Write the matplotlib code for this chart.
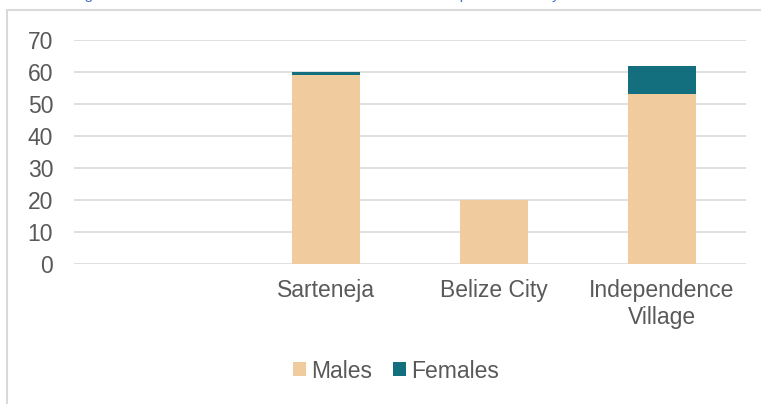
import matplotlib
matplotlib.use("Agg")
import matplotlib.pyplot as plt
from matplotlib.patches import Rectangle

plt.rcParams['font.family'] = ['Liberation Sans', 'DejaVu Sans']

# Data: fishers interviewed per community, split by sex
communities = ["", "Sarteneja", "Belize City", "Independence\nVillage"]
males = [0, 59, 20, 53]
females = [0, 1, 0, 9]
y_ticks = [0, 10, 20, 30, 40, 50, 60, 70]

male_color = "#EFCB9E"
female_color = "#136E7D"
text_color = "#595959"
grid_color = "#D9D9D9"
font_size = 16.5

fig = plt.figure(figsize=(7.61, 4.04), dpi=100)

# Caption sitting just above the chart frame
fig.text(72 / 761, 1 + 1.0 / 404, "Figure 6: Number of male and female fishers interviewed per community",
         color="#4472C4", fontsize=11, ha="left", va="baseline")

# Chart frame
fig.patches.append(Rectangle((7 / 761, -0.05), 1.2, 1 - 10 / 404 + 0.05,
                             transform=fig.transFigure, fill=False,
                             edgecolor=grid_color, linewidth=1.5))

ax = fig.add_axes([74 / 761, 1 - 264 / 404, (746 - 74) / 761, (264 - 40) / 404])

x = list(range(len(communities)))
ax.bar(x, males, width=0.4, color=male_color, label="Males", zorder=3)
ax.bar(x, females, width=0.4, bottom=males, color=female_color, label="Females", zorder=3)

ax.set_xlim(-0.5, len(communities) - 0.5)
ax.set_ylim(0, 70)
ax.set_yticks(y_ticks)
ax.set_xticks(x)
ax.set_xticklabels(communities, linespacing=1.2)

for s in ax.spines.values():
    s.set_visible(False)
ax.yaxis.grid(True, color=grid_color, linewidth=1.2, zorder=0)
ax.set_axisbelow(True)

ax.tick_params(axis="both", length=0, labelsize=font_size, labelcolor=text_color)
ax.tick_params(axis="y", pad=15)
ax.tick_params(axis="x", pad=11)

leg = fig.legend(loc="center", bbox_to_anchor=(396 / 761, 1 - 371 / 404), ncol=2,
                 frameon=False, fontsize=font_size, handlelength=0.57, handleheight=0.57,
                 handletextpad=0.22, columnspacing=0.9, labelcolor=text_color)

fig.savefig("out.png", dpi=100)
